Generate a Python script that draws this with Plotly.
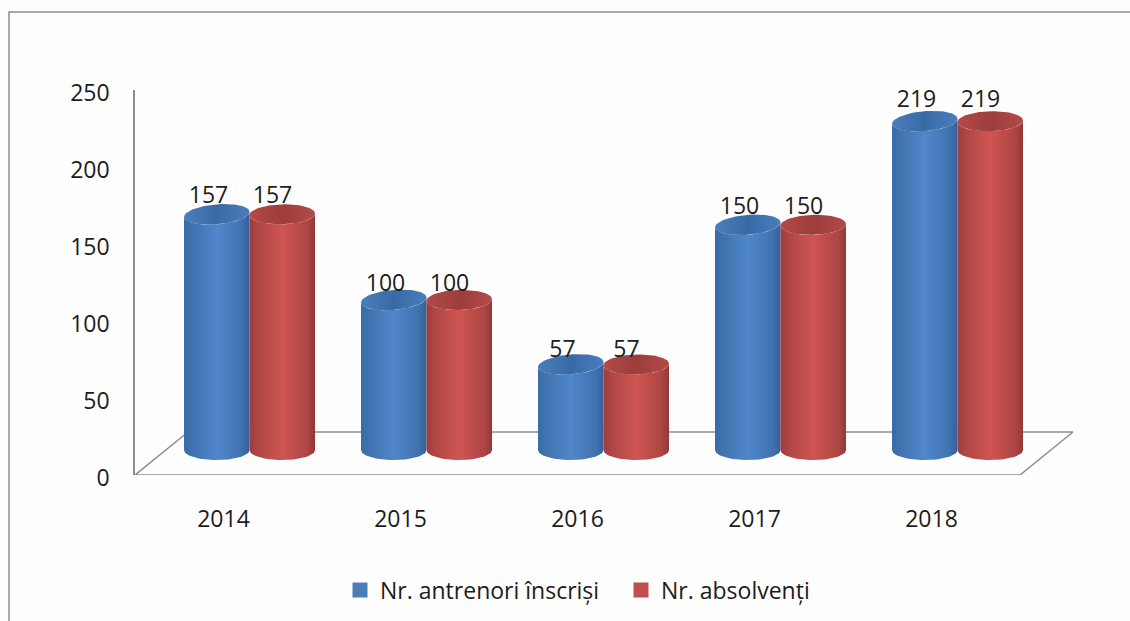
import numpy as np
import plotly.graph_objects as go

years = ["2014", "2015", "2016", "2017", "2018"]
y_ticks = [0, 50, 100, 150, 200, 250]
antrenori = [157, 100, 57, 150, 219]
absolventi = [157, 100, 57, 150, 219]
series_names = ["Nr. antrenori înscriși", "Nr. absolvenți"]

FONT = "Open Sans"
GRAY = "#8e8e8e"
TXT = "#1c1c1c"
W, H = 1130, 621
L, R, T, B = 135, 1077, 90, 475
PX_X = 177.0
PX_Y = (B - T) / 250.0
X_MAX = (R - L) / PX_X - 0.5

DEPTH_X = 0.147
BAR_HALF = 32.75 / PX_X
CAP_RY = 10 / PX_Y
BASE_Y = 16.2
SHRINK = 0.975

styles = [
    dict(off=-BAR_HALF, label=-15 / PX_X, swatch="#4a7ebb", tilt=2.5 / PX_Y,
         body=[[0, "#3a6ba6"], [0.12, "#4072ae"], [0.5, "#5087cc"], [0.88, "#4072ae"], [1, "#34609a"]],
         cap=[[0, "#4a7dba"], [0.5, "#386ba6"], [1, "#4a7dba"]]),
    dict(off=BAR_HALF, label=49 / PX_X, swatch="#c0504d", tilt=0.8 / PX_Y,
         body=[[0, "#9c3d3c"], [0.12, "#ad4644"], [0.5, "#cf5552"], [0.88, "#ad4644"], [1, "#933837"]],
         cap=[[0, "#b34a48"], [0.5, "#9d3d3c"], [1, "#b34a48"]]),
]

fig = go.Figure()

# Floor of the 3D box
floor_back = (B - 432) / PX_Y
slant = 53 / PX_X
floor_x = [-0.5 + slant, -0.5, 4.5, 4.5 + slant, -0.5 + slant]
floor_y = [floor_back, 0, 0, floor_back, floor_back]
fig.add_trace(go.Scatter(x=floor_x, y=floor_y, mode="lines", cliponaxis=False,
                         line=dict(color=GRAY, width=1.5), showlegend=False, hoverinfo="skip"))

theta = np.linspace(0, np.pi, 40)


def cylinder(cx, v, st):
    top = BASE_Y + SHRINK * v
    ex = BAR_HALF * np.cos(theta)
    tilt = st["tilt"] * np.cos(theta)
    bx = np.concatenate([cx - ex, cx + ex])
    by = np.concatenate([BASE_Y - CAP_RY * np.sin(theta),
                         top - CAP_RY * np.sin(theta) + tilt])
    bx = np.append(bx, bx[0])
    by = np.append(by, by[0])
    fig.add_trace(go.Scatter(x=bx, y=by, mode="lines", fill="toself", cliponaxis=False,
                             line=dict(width=0),
                             fillgradient=dict(type="horizontal", colorscale=st["body"]),
                             showlegend=False, hoverinfo="skip"))
    t2 = np.linspace(0, 2 * np.pi, 80)
    cxs = cx + BAR_HALF * np.cos(t2)
    cys = top + CAP_RY * np.sin(t2) + st["tilt"] * np.cos(t2)
    fig.add_trace(go.Scatter(x=cxs, y=cys, mode="lines", fill="toself", cliponaxis=False,
                             line=dict(width=0),
                             fillgradient=dict(type="horizontal", colorscale=st["cap"]),
                             showlegend=False, hoverinfo="skip"))


for i in range(len(years)):
    for vals, st in zip([antrenori, absolventi], styles):
        cylinder(i + DEPTH_X + st["off"], vals[i], st)

for vals, st in zip([antrenori, absolventi], styles):
    fig.add_trace(go.Scatter(x=[i + st["label"] for i in range(len(years))],
                             y=[v + 23.5 for v in vals],
                             text=[str(v) for v in vals],
                             mode="text", textposition="middle center", cliponaxis=False,
                             textfont=dict(family=FONT, size=23, color=TXT),
                             showlegend=False, hoverinfo="skip"))

for name, st in zip(series_names, styles):
    fig.add_trace(go.Scatter(x=[None], y=[None], mode="markers", name=name,
                             marker=dict(symbol="square", size=15, color=st["swatch"])))

fig.update_layout(
    width=W, height=H, autosize=False,
    margin=dict(l=L, r=W - R, t=T, b=H - B, pad=0),
    paper_bgcolor="#fefefe", plot_bgcolor="rgba(0,0,0,0)",
    font=dict(family=FONT, size=23, color=TXT),
    xaxis=dict(range=[-0.5, X_MAX], tickmode="array", tickvals=list(range(5)), ticktext=years,
               showgrid=False, zeroline=False, showline=False,
               ticks="outside", ticklen=23, tickcolor="rgba(0,0,0,0)",
               tickfont=dict(family=FONT, size=23, color=TXT)),
    yaxis=dict(range=[0, 250], tickmode="array", tickvals=y_ticks, ticktext=[str(t) for t in y_ticks],
               showgrid=False, zeroline=False, showline=True, linecolor=GRAY, linewidth=1.5,
               ticks="outside", ticklen=19, tickcolor="rgba(0,0,0,0)", ticklabelshift=3,
               tickfont=dict(family=FONT, size=23, color=TXT)),
    legend=dict(orientation="h", xref="container", yref="container",
                x=340 / W, y=1 - 590 / H, yanchor="middle",
                xanchor="left", font=dict(family=FONT, size=23, color=TXT),
                entrywidth=236, entrywidthmode="pixels",
                bgcolor="rgba(0,0,0,0)", itemclick=False, itemdoubleclick=False),
    shapes=[dict(type="rect", xref="paper", yref="paper",
                 x0=(9 - L) / (R - L), x1=(1160 - L) / (R - L),
                 y0=-(640 - B) / (B - T), y1=(B - 12) / (B - T),
                 line=dict(color=GRAY, width=1.5), fillcolor="rgba(0,0,0,0)", layer="below")],
    showlegend=True,
)

fig.write_html("out.html", config={"displayModeBar": False},
               post_script="document.body.style.margin='0';document.body.style.overflow='hidden';")
